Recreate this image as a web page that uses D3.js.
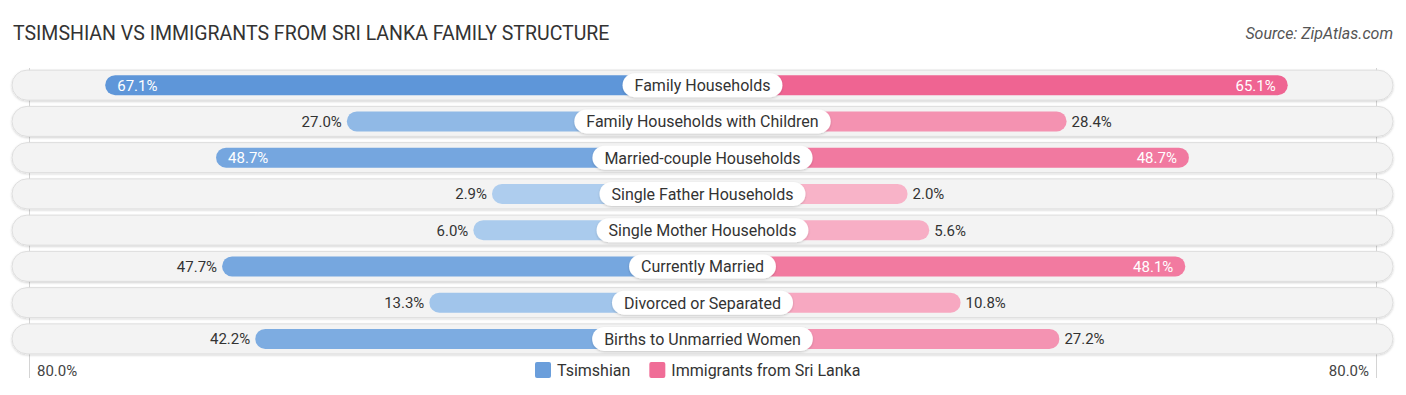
<!DOCTYPE html>
<html>
<head>
<meta charset="utf-8">
<script src="https://cdn.jsdelivr.net/npm/d3@7"></script>
<style>
  body { margin: 0; background: #fff; }
  text { font-family: Roboto, "Noto Sans", sans-serif; }
</style>
</head>
<body>
<svg id="chart" width="1406" height="395"></svg>
<script>
var categories = ["Family Households", "Family Households with Children", "Married-couple Households",
    "Single Father Households", "Single Mother Households", "Currently Married",
    "Divorced or Separated", "Births to Unmarried Women"];
var tsimshian = [67.1, 27.0, 48.7, 2.9, 6.0, 47.7, 13.3, 42.2];
var sriLanka = [65.1, 28.4, 48.7, 2.0, 5.6, 48.1, 10.8, 27.2];
var seriesNames = ["Tsimshian", "Immigrants from Sri Lanka"];
var axisMax = 80;

var svg = d3.select("#chart");
var cx = 702.5;

// bars start behind the label pill, then grow with the value
var xScale = d3.scaleLinear().domain([0, axisMax]).range([193, 675]);
var yScale = d3.scaleBand().domain(categories).range([67, 357]).padding(0);

var blueColor = d3.scaleLinear().domain([0, 67.1]).range(["#b2d0ef", "#5e96d9"]).interpolate(d3.interpolateRgb);
var pinkColor = d3.scaleLinear().domain([0, 67.1]).range(["#f8b5ca", "#ef6290"]).interpolate(d3.interpolateRgb);

var defs = svg.append("defs");
var sh = defs.append("filter").attr("id", "shadow").attr("x", "-10%").attr("y", "-30%").attr("width", "120%").attr("height", "170%");
sh.append("feDropShadow").attr("dx", 0).attr("dy", 1).attr("stdDeviation", 1.2).attr("flood-color", "#000").attr("flood-opacity", 0.18);

// title and source
svg.append("text").attr("x", 13).attr("y", 40)
    .style("font-size", "19.5px").style("fill", "#333")
    .text("TSIMSHIAN VS IMMIGRANTS FROM SRI LANKA FAMILY STRUCTURE");
svg.append("text").attr("x", 1393).attr("y", 39).attr("text-anchor", "end")
    .style("font-size", "16px").style("font-style", "italic").style("fill", "#555")
    .text("Source: ZipAtlas.com");

// gridlines at the axis ends
[cx - 673, cx + 674].forEach(function (x) {
    svg.append("line").attr("x1", x).attr("x2", x).attr("y1", 68).attr("y2", 378)
        .style("stroke", "#d4d4d4").style("stroke-width", 1);
});

var rows = svg.selectAll("g.row").data(categories).enter().append("g").attr("class", "row")
    .attr("transform", function (d) { return "translate(0," + (yScale(d) + yScale.bandwidth() / 2) + ")"; });

// background track
rows.append("rect").attr("x", 12).attr("y", -15).attr("width", 1381).attr("height", 30)
    .attr("rx", 15).style("fill", "#f3f3f3").style("stroke", "#dedede").style("stroke-width", 1)
    .attr("filter", "url(#shadow)");

// left bars
rows.append("rect")
    .attr("x", function (d, i) { return cx - xScale(tsimshian[i]); })
    .attr("y", -10).attr("height", 20)
    .attr("width", function (d, i) { return xScale(tsimshian[i]); })
    .attr("rx", 10)
    .style("fill", function (d, i) { return blueColor(tsimshian[i]); });

// right bars
rows.append("rect")
    .attr("x", cx)
    .attr("y", -10).attr("height", 20)
    .attr("width", function (d, i) { return xScale(sriLanka[i]); })
    .attr("rx", 10)
    .style("fill", function (d, i) { return pinkColor(sriLanka[i]); });

// value labels
function inside(v) { return v > 48; }
rows.append("text")
    .attr("x", function (d, i) {
        var v = tsimshian[i];
        return inside(v) ? cx - xScale(v) + 12 : cx - xScale(v) - 5;
    })
    .attr("y", 5.5)
    .attr("text-anchor", function (d, i) { return inside(tsimshian[i]) ? "start" : "end"; })
    .style("font-size", "15px")
    .style("fill", function (d, i) { return inside(tsimshian[i]) ? "#fff" : "#333"; })
    .text(function (d, i) { return tsimshian[i].toFixed(1) + "%"; });

rows.append("text")
    .attr("x", function (d, i) {
        var v = sriLanka[i];
        return inside(v) ? cx + xScale(v) - 12 : cx + xScale(v) + 5;
    })
    .attr("y", 5.5)
    .attr("text-anchor", function (d, i) { return inside(sriLanka[i]) ? "end" : "start"; })
    .style("font-size", "15px")
    .style("fill", function (d, i) { return inside(sriLanka[i]) ? "#fff" : "#333"; })
    .text(function (d, i) { return sriLanka[i].toFixed(1) + "%"; });

// category pills
rows.each(function (d) {
    var g = d3.select(this);
    var pill = g.append("rect").attr("y", -12).attr("height", 24).attr("rx", 12)
        .style("fill", "#fff").attr("filter", "url(#shadow)");
    var t = g.append("text").attr("x", cx).attr("y", 6).attr("text-anchor", "middle")
        .style("font-size", "16px").style("fill", "#333").text(d);
    var w = t.node().getComputedTextLength() + 24;
    pill.attr("x", cx - w / 2).attr("width", w);
});

// axis end labels
svg.append("text").attr("x", 37).attr("y", 376).style("font-size", "15px").style("fill", "#444").text(axisMax.toFixed(1) + "%");
svg.append("text").attr("x", 1369).attr("y", 376).attr("text-anchor", "end").style("font-size", "15px").style("fill", "#444").text(axisMax.toFixed(1) + "%");

// legend
var legend = svg.append("g");
var lx = 535;
seriesNames.forEach(function (name, i) {
    var item = legend.append("g").attr("transform", "translate(" + lx + ",362)");
    item.append("rect").attr("width", 16).attr("height", 16).attr("rx", 2)
        .style("fill", i === 0 ? "#6a9edb" : "#f06d97");
    var t = item.append("text").attr("x", 22).attr("y", 14).style("font-size", "16px").style("fill", "#333").text(name);
    lx += 22 + t.node().getComputedTextLength() + 19;
});
</script>
</body>
</html>
